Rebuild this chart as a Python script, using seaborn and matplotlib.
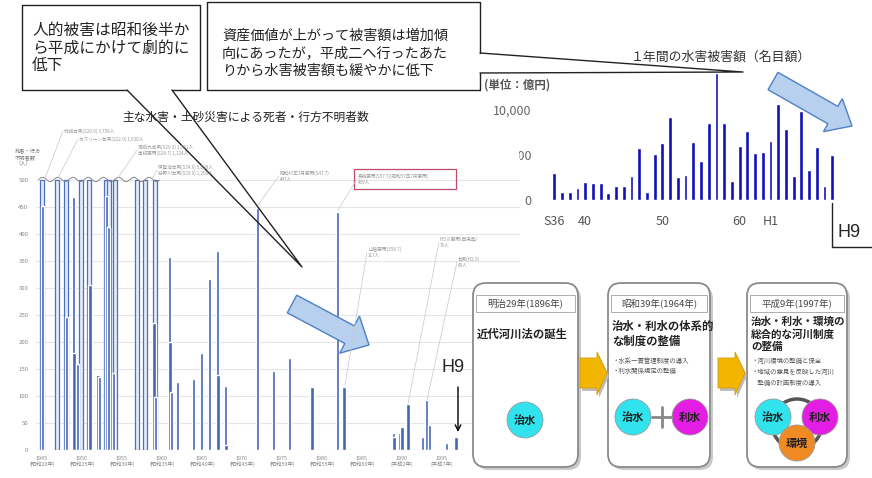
import numpy as np
import pandas as pd
import seaborn as sns
import matplotlib
matplotlib.use('Agg')
import matplotlib.pyplot as plt
from matplotlib.patches import Rectangle, FancyBboxPatch, Circle, Polygon, FancyArrow

# deaths / missing in major flood & sediment disasters (bars above 500 are cut off)
capped_years = [1945.0, 1946.9, 1948.0, 1949.9, 1950.9, 1953.0, 1953.4, 1954.1, 1956.9, 1957.9, 1959.1]
capped_deaths = [3756, 1930, 838, 539, 943, 1124, 1001, 1761, 722, 1269, 5098]
event_years = [1945.1, 1948.1, 1948.9, 1949.0, 1949.4, 1951.0, 1952.0, 1952.15, 1953.05, 1953.3, 1953.9,
               1959.0, 1959.2, 1960.9, 1961.0, 1961.2, 1961.9, 1963.9, 1964.9, 1965.9, 1966.9, 1967.0,
               1967.9, 1968.0, 1971.9, 1973.9, 1975.9, 1978.75, 1981.9, 1982.75,
               1988.9, 1989.0, 1989.75, 1990.0, 1990.75, 1992.6, 1993.1, 1993.4, 1995.6, 1996.75]
event_deaths = [451, 246, 468, 179, 160, 305, 139, 136, 470, 413, 143,
                235, 98, 357, 200, 107, 126, 131, 180, 317, 368, 139,
                119, 10, 448, 146, 170, 116, 441, 117,
                31, 25, 31, 43, 85, 25, 93, 46, 13, 25]
tick_years = [1945, 1950, 1955, 1960, 1965, 1970, 1975, 1980, 1985, 1990, 1995]
tick_eras = ['昭和20年', '昭和25年', '昭和30年', '昭和35年', '昭和40年', '昭和45年',
             '昭和50年', '昭和55年', '昭和60年', '平成2年', '平成7年']
event_notes = ['枕崎台風(S20.9) 3,756人', 'カスリーン台風(S22.9) 1,930人',
               '洞爺丸台風(S29.9) 1,761人\n南紀豪雨(S28.7) 1,124人',
               '伊勢湾台風(S34.9) 5,098人\n狩野川台風(S33.9) 1,269人',
               '昭和47年7月豪雨(S47.7)\n447人', '長崎豪雨(S57.7)(昭和57年7月豪雨)\n439人',
               '山陰豪雨(S58.7)\n117人', 'H5.8 豪雨(鹿児島)\n79人', '台風(H2.9)\n40人']

# yearly flood damage (100 million yen, nominal)
damage_years = ['S36', 'S37', 'S38', 'S39', 'S40', 'S41', 'S42', 'S43', 'S44', 'S45',
                'S46', 'S47', 'S48', 'S49', 'S50', 'S51', 'S52', 'S53', 'S54', 'S55',
                'S56', 'S57', 'S58', 'S59', 'S60', 'S61', 'S62', 'S63', 'H1', 'H2',
                'H3', 'H4', 'H5', 'H6', 'H7', 'H8', 'H9']
damage_values = [3040, 930, 930, 1370, 2040, 1850, 1850, 820, 1590, 1590,
                 2670, 5740, 930, 5070, 6300, 9260, 2590, 2780, 6410, 4330,
                 8590, 14070, 8590, 2150, 6000, 7700, 5190, 5370, 6590, 10670,
                 7850, 2670, 9890, 3330, 5850, 1590, 5000]
damage_ticks = ['S36', 'S40', 'S50', 'S60', 'H1']
damage_ticklabels = ['S36', '40', '50', '60', 'H1']

# river law history panels
law_eras = ['明治29年(1896年)', '昭和39年(1964年)', '平成9年(1997年)']
law_titles = ['近代河川法の誕生', '治水・利水の体系的\nな制度の整備', '治水・利水・環境の\n総合的な河川制度\nの整備']
law_points = ['', '・水系一貫管理制度の導入\n・利水関係規定の整備',
              '・河川環境の整備と保全\n・地域の意見を反映した河川\n　整備の計画制度の導入']

note_left = '人的被害は昭和後半か\nら平成にかけて劇的に\n低下'
note_right = '資産価値が上がって被害額は増加傾\n向にあったが，平成二へ行ったあた\nりから水害被害額も緩やかに低下'

sns.set_style('white')
plt.rcParams['font.family'] = ['Noto Sans CJK JP', 'DejaVu Sans']

W, H = 872, 478
fig = plt.figure(figsize=(W / 100, H / 100), dpi=100)


def px_rect(x0, y0, x1, y1):
    return [x0 / W, 1 - y1 / H, (x1 - x0) / W, (y1 - y0) / H]


# ---- left: deaths chart ----
axL = fig.add_axes(px_rect(36, 158.4, 520, 450))
axL.set_zorder(2)
axL.bar(capped_years, np.minimum(capped_deaths, 500), width=0.5, color='#e4ecf8',
        edgecolor='#4e6fc0', linewidth=0.9, zorder=2)
axL.bar(event_years, event_deaths, width=0.38, color='#4466b6', zorder=3)
wave_x = np.linspace(1944.6, 1959.7, 400)
axL.plot(wave_x, 501 + 4 * np.sin(2 * np.pi * (wave_x - 1944.6) / 1.9), color='#888888', lw=0.7, zorder=4)
axL.set_xlim(1944.25, 2004.75)
axL.set_ylim(0, 540)
axL.set_yticks(range(0, 501, 50))
axL.set_xticks(tick_years)
axL.set_xticklabels([f'{y}\n({e})' for y, e in zip(tick_years, tick_eras)], linespacing=1.1)
axL.grid(axis='y', color='#e6e6e6', lw=0.8)
axL.grid(axis='x', visible=False)
axL.tick_params(axis='y', labelsize=4.3, colors='#888888', length=0, pad=5.5)
axL.tick_params(axis='x', labelsize=3.9, colors='#888888', length=0, pad=4)
sns.despine(ax=axL, left=True, bottom=True)

# ---- right: damage chart ----
axR = fig.add_axes(px_rect(540, 65, 840, 200))
axR.set_zorder(1)
df = pd.DataFrame({'year': damage_years, 'damage': damage_values})
sns.barplot(data=df, x='year', y='damage', ax=axR, color='#1010b8', width=0.5,
            saturation=1, errorbar=None)
axR.set_xlim(-1.85, 37.0)
axR.set_ylim(0, 15000)
axR.set_xticks([damage_years.index(t) for t in damage_ticks])
axR.set_xticklabels(damage_ticklabels)
axR.set_yticks([0, 5000, 10000])
axR.set_yticklabels([f'{v:,}' for v in [0, 5000, 10000]])
axR.set_xlabel('')
axR.set_ylabel('')
axR.tick_params(axis='x', labelsize=9, colors='#555555', length=0, pad=11)
axR.tick_params(axis='y', labelsize=9, colors='#666666', length=0, pad=6)
sns.despine(ax=axR, left=True, bottom=True)

# ---- overlay in pixel coordinates ----
ov = fig.add_axes([0, 0, 1, 1])
ov.set_zorder(5)
ov.set_xlim(0, W)
ov.set_ylim(H, 0)
ov.axis('off')
ov.patch.set_visible(False)

# white edge of the left picture hiding part of the right axis
ov.add_patch(Rectangle((484, 128), 35, 48, facecolor='white', edgecolor='none', zorder=0.5))

ov.text(246, 117, '主な水害・土砂災害による死者・行方不明者数', ha='center', va='center',
        fontsize=8.5, color='#222222')
ov.text(15, 158, '死者・行方\n不明者数\n（人）', fontsize=3.8, color='#777777', va='center', linespacing=1.2)

# small notes of the deaths chart
note_pos = [(64, 131, 45, 178), (79, 139, 58, 178), (138, 150, 118, 178), (158, 170, 152, 179),
            (280, 176, 258, 205), (358, 179, 338, 210), (368, 252, 345, 385),
            (440, 242, 408, 404), (458, 262, 427, 400)]
for txt, (tx, ty, bx, by) in zip(event_notes, note_pos):
    ov.plot([tx - 1, bx], [ty, by], color='#c8c8c8', lw=0.5)
    ov.text(tx, ty, txt, fontsize=3.3, color='#999999', va='center', ha='left', linespacing=1.2)
ov.add_patch(Rectangle((354, 169), 102, 20, facecolor='none', edgecolor='#c04a6a', lw=0.9))

# callout boxes
ov.add_patch(Rectangle((22, 5), 178, 85, facecolor='white', edgecolor='none'))
ov.plot([127, 22, 22, 200, 200, 172], [90, 90, 5, 5, 90, 90], color='#222222', lw=1)
ov.plot([127, 302, 172], [90, 267, 90], color='#222222', lw=1)
ov.text(32, 48, note_left, fontsize=11.3, va='center', ha='left', linespacing=1.05, color='#222222')

ov.add_patch(Rectangle((207, 2), 273, 88, facecolor='white', edgecolor='none'))
ov.plot([480, 480, 207, 207, 480, 480], [53, 2, 2, 90, 90, 73], color='#222222', lw=1)
ov.plot([480, 743, 480], [53, 72, 73], color='#222222', lw=1)
ov.text(222, 53, note_right, fontsize=10.2, va='center', ha='left', linespacing=1.3, color='#222222')

# damage chart labels
ov.text(721, 57, '１年間の水害被害額（名目額）', ha='center', va='center', fontsize=9.3, color='#333333')
ov.text(517, 85, '(単位：億円)', ha='center', va='center', fontsize=8.3, color='#555555', weight='bold')
ov.plot([832, 832, 872], [203, 247, 247], color='#222222', lw=1)
ov.text(849, 232, 'H9', ha='center', va='center', fontsize=13, family='Liberation Sans')

ov.text(453, 368, 'H9', ha='center', va='center', fontsize=13, family='Liberation Sans')
ov.annotate('', xy=(458, 432), xytext=(458, 387),
            arrowprops=dict(arrowstyle='->', lw=1, color='black', shrinkA=0, shrinkB=0))

# blue trend arrows
for (x0, y0, x1, y1, hw) in [(292, 304, 369, 345, 42), (773, 81, 852, 126, 38)]:
    ov.add_patch(FancyArrow(x0, y0, x1 - x0, y1 - y0, width=20, head_width=hw, head_length=22,
                            length_includes_head=True, facecolor='#b7d0ee', edgecolor='#4f7fc6', lw=1))

# river law panels
panels = [(473, 578), (608, 710), (747, 847)]
for (x0, x1), era, title, pts in zip(panels, law_eras, law_titles, law_points):
    ov.add_patch(FancyBboxPatch((x0 + 3, 286), x1 - x0, 184, boxstyle='round,pad=0,rounding_size=13',
                                facecolor='#c9c9c9', edgecolor='none'))
    ov.add_patch(FancyBboxPatch((x0, 283), x1 - x0, 184, boxstyle='round,pad=0,rounding_size=13',
                                facecolor='white', edgecolor='#8a8a8a', lw=1.3))
    ov.add_patch(Rectangle((x0 + 3, 295), x1 - x0 - 6, 17, facecolor='white', edgecolor='#a0a0a0', lw=0.6))
    ov.text((x0 + x1) / 2, 303.5, era, ha='center', va='center', fontsize=6.8, color='#444444')
    nlines = title.count('\n') + 1
    ov.text(x0 + 4, 334, title, ha='left', va='center', fontsize=8.2 if nlines < 3 else 7.6,
            weight='bold', color='#222222', linespacing=1.25)
    if pts:
        ov.text(x0 + 4, 366 if nlines < 3 else 372, pts, ha='left', va='center', fontsize=4.6,
                color='#555555', linespacing=1.45)

# gold arrows between panels
for xa in [580, 718]:
    shape = [(xa, 358), (xa + 17, 358), (xa + 17, 352), (xa + 27, 373), (xa + 17, 395), (xa + 17, 388), (xa, 388)]
    ov.add_patch(Polygon([(x + 2, y + 3) for x, y in shape], closed=True, facecolor='#bdbdbd', edgecolor='none'))
    ov.add_patch(Polygon(shape, closed=True, facecolor='#f2b600', edgecolor='#d99a00', lw=0.6))

ov.add_patch(Circle((797, 424), 25, facecolor='none', edgecolor='#555555', lw=2.5))
circle_specs = [(525, 420, '#31e3ec', '治水'), (633, 417, '#31e3ec', '治水'), (690, 417, '#e41de4', '利水'),
                (773, 417, '#31e3ec', '治水'), (820, 417, '#e41de4', '利水'), (797, 443, '#f08a22', '環境')]
for cx, cy, col, lab in circle_specs:
    ov.add_patch(Circle((cx, cy), 18, facecolor=col, edgecolor='#9a9a9a', lw=0.6))
    ov.text(cx, cy, lab, ha='center', va='center', fontsize=8, weight='bold', color='#222222')
ov.plot([652, 672], [417, 417], color='#888888', lw=2)
ov.plot([662, 662], [407, 427], color='#888888', lw=2)

fig.savefig('out.png', dpi=100, facecolor='white')
